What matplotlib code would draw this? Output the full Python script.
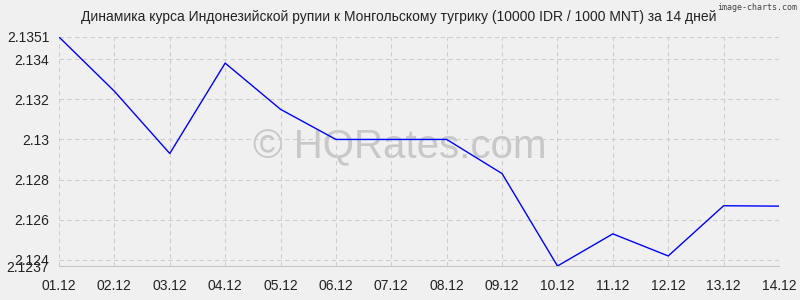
import matplotlib
matplotlib.use('Agg')
import matplotlib.pyplot as plt

datas = ['01.12', '02.12', '03.12', '04.12', '05.12', '06.12', '07.12',
         '08.12', '09.12', '10.12', '11.12', '12.12', '13.12', '14.12']
kurs = [2.1351, 2.1324, 2.1293, 2.1338, 2.1315, 2.1300, 2.1300,
        2.1300, 2.1283, 2.1237, 2.1253, 2.1242, 2.1267, 2.12668]
y_ticks = [2.1237, 2.124, 2.126, 2.128, 2.13, 2.132, 2.134, 2.1351]
y_labels = ['2.1237', '2.124', '2.126', '2.128', '2.13', '2.132', '2.134', '2.1351']

plt.rcParams['font.family'] = ['Liberation Sans', 'DejaVu Sans']
bg = '#f0f0f0'

fig = plt.figure(figsize=(8, 3), dpi=100, facecolor=bg)
ax = fig.add_axes([59/800, 34/300, 720/800, 229/300], facecolor=bg)

x = list(range(len(datas)))
# водяной знак под линией
fig.text(400/800, 1 - 147/300, '© HQRates.com', ha='center', va='center',
         fontsize=29, color='#c8c8c8', zorder=0)
ax.set_zorder(1)
ax.patch.set_alpha(0)
ax.plot(x, kurs, color='#0000ff', lw=1, zorder=3)

ax.set_xlim(0, len(datas) - 1)
ax.set_ylim(2.1237, 2.1351)
ax.set_xticks(x)
ax.set_xticklabels(datas)
ax.set_yticks(y_ticks)
ax.set_yticklabels(y_labels)
ax.tick_params(axis='y', length=0, labelsize=10, colors='#222222', pad=7)
ax.tick_params(axis='x', length=0, labelsize=10, colors='#222222', pad=9)
ax.grid(True, color='#cfcfcf', linestyle=(0, (4, 3)), lw=0.8, zorder=0)
for s in ['top', 'right', 'left']:
    ax.spines[s].set_visible(False)
ax.spines['bottom'].set_color('#c8c8c8')

fig.text(399/800, 1 - 17/300, 'Динамика курса Индонезийской рупии к Монгольскому тугрику (10000 IDR / 1000 MNT) за 14 дней',
         ha='center', va='center', fontsize=10, color='#222222')
fig.text(797/800, 1 - 7/300, 'image-charts.com', ha='right', va='center',
         fontsize=6, color='#444444', family='DejaVu Sans Mono')

fig.savefig('out.png', dpi=100, facecolor=bg)
